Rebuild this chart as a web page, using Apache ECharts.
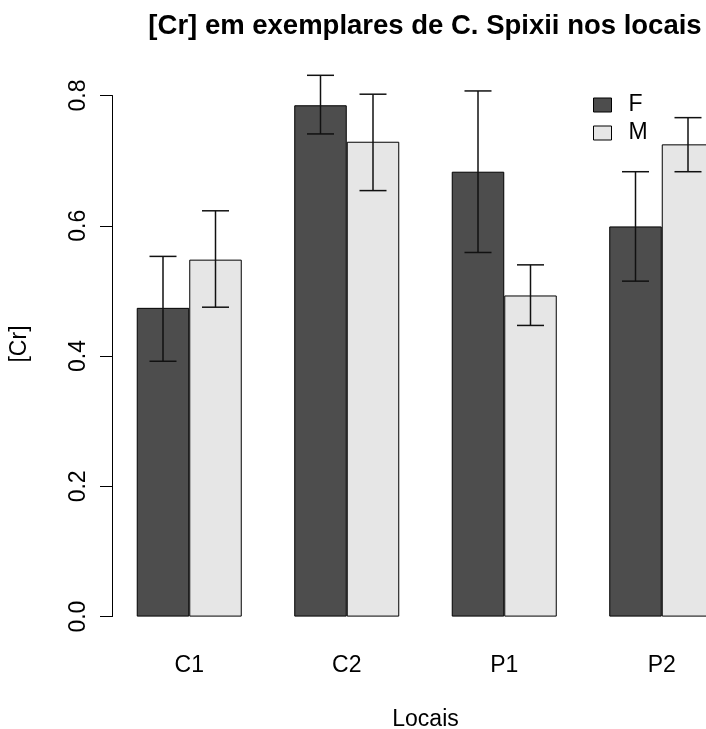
<!DOCTYPE html>
<html>
<head>
<meta charset="utf-8">
<script src="https://cdn.jsdelivr.net/npm/echarts@6/dist/echarts.min.js"></script>
<style>
  html, body { margin: 0; padding: 0; background: #fff; }
  #main { width: 706px; height: 729px; }
</style>
</head>
<body>
<div id="main"></div>
<script>
"use strict";
// locais e valores medios de [Cr] por sexo
var locais = ["C1", "C2", "P1", "P2"];
var seriesNames = ["F", "M"];
var meanF = [0.474, 0.785, 0.683, 0.599];
var meanM = [0.548, 0.729, 0.493, 0.725];
// limites das barras de erro
var lowF = [0.392, 0.741, 0.559, 0.515];
var highF = [0.553, 0.831, 0.807, 0.683];
var lowM = [0.475, 0.654, 0.447, 0.683];
var highM = [0.623, 0.802, 0.540, 0.766];

var FONT = "Liberation Sans";
var chart = echarts.init(document.getElementById("main"), null, {renderer: "canvas"});

function errData(low, high) {
    return locais.map(function (c, i) { return [i, low[i], high[i]]; });
}

function errSeries(name, low, high, side) {
    return {
        type: "custom",
        name: name + "_err",
        silent: true,
        z: 5,
        encode: {x: 0, y: [1, 2]},
        data: errData(low, high),
        renderItem: function (params, api) {
            var band = api.size([1, 0])[0];
            var lo = api.coord([api.value(0), api.value(1)]);
            var hi = api.coord([api.value(0), api.value(2)]);
            var x = lo[0] + side * band / 6;
            var cap = 13.5;
            var st = {stroke: "#111", lineWidth: 1.5};
            return {
                type: "group",
                children: [
                    {type: "line", shape: {x1: x, y1: lo[1], x2: x, y2: hi[1]}, style: st},
                    {type: "line", shape: {x1: x - cap, y1: lo[1], x2: x + cap, y2: lo[1]}, style: st},
                    {type: "line", shape: {x1: x - cap, y1: hi[1], x2: x + cap, y2: hi[1]}, style: st}
                ]
            };
        }
    };
}

var option = {
    animation: false,
    backgroundColor: "#fff",
    textStyle: {fontFamily: FONT, color: "#000"},
    title: {
        text: "[Cr] em exemplares de C. Spixii nos locais",
        left: 420,
        top: 7,
        textAlign: "center",
        textStyle: {fontFamily: FONT, fontWeight: "bold", fontSize: 27.5, color: "#000"}
    },
    legend: {
        data: seriesNames,
        orient: "vertical",
        left: 588,
        top: 88.5,
        itemWidth: 18,
        itemHeight: 14,
        itemGap: 5,
        icon: "rect",
        itemStyle: {borderColor: "#000", borderWidth: 1},
        textStyle: {fontFamily: FONT, fontSize: 23, color: "#000", padding: [0, 0, 0, 12]}
    },
    grid: {left: 110.5, top: 95.5, width: 630, height: 521.1, outerBoundsMode: "none"},
    xAxis: {
        type: "category",
        data: locais,
        name: "Locais",
        nameLocation: "middle",
        nameGap: 92,
        nameTextStyle: {fontFamily: FONT, fontSize: 23, color: "#000"},
        axisLine: {show: false},
        axisTick: {show: false},
        axisLabel: {fontFamily: FONT, fontSize: 23, color: "#000", margin: 38}
    },
    yAxis: {
        type: "value",
        min: 0,
        max: 0.8,
        interval: 0.2,
        offset: -1.5,
        splitLine: {show: false},
        axisLine: {show: true, lineStyle: {color: "#000", width: 1}},
        axisTick: {show: true, length: 12, lineStyle: {color: "#000", width: 1}},
        axisLabel: {
            fontFamily: FONT, fontSize: 23, color: "#000", rotate: 90, margin: 22,
            formatter: function (v) { return v.toFixed(1); }
        }
    },
    graphic: [{
        type: "text",
        x: 20,
        y: 344,
        rotation: Math.PI / 2,
        style: {text: "[Cr]", fontFamily: FONT, fontSize: 23, fill: "#000", align: "center", verticalAlign: "middle"}
    }],
    series: [
        {
            name: "F", type: "bar", data: meanF,
            barGap: "0%", barCategoryGap: "33.333%",
            itemStyle: {color: "#4d4d4d", borderColor: "#000", borderWidth: 1}
        },
        {
            name: "M", type: "bar", data: meanM,
            barGap: "0%", barCategoryGap: "33.333%",
            itemStyle: {color: "#e6e6e6", borderColor: "#000", borderWidth: 1}
        },
        errSeries("F", lowF, highF, -1),
        errSeries("M", lowM, highM, 1)
    ]
};

chart.setOption(option);
</script>
</body>
</html>
